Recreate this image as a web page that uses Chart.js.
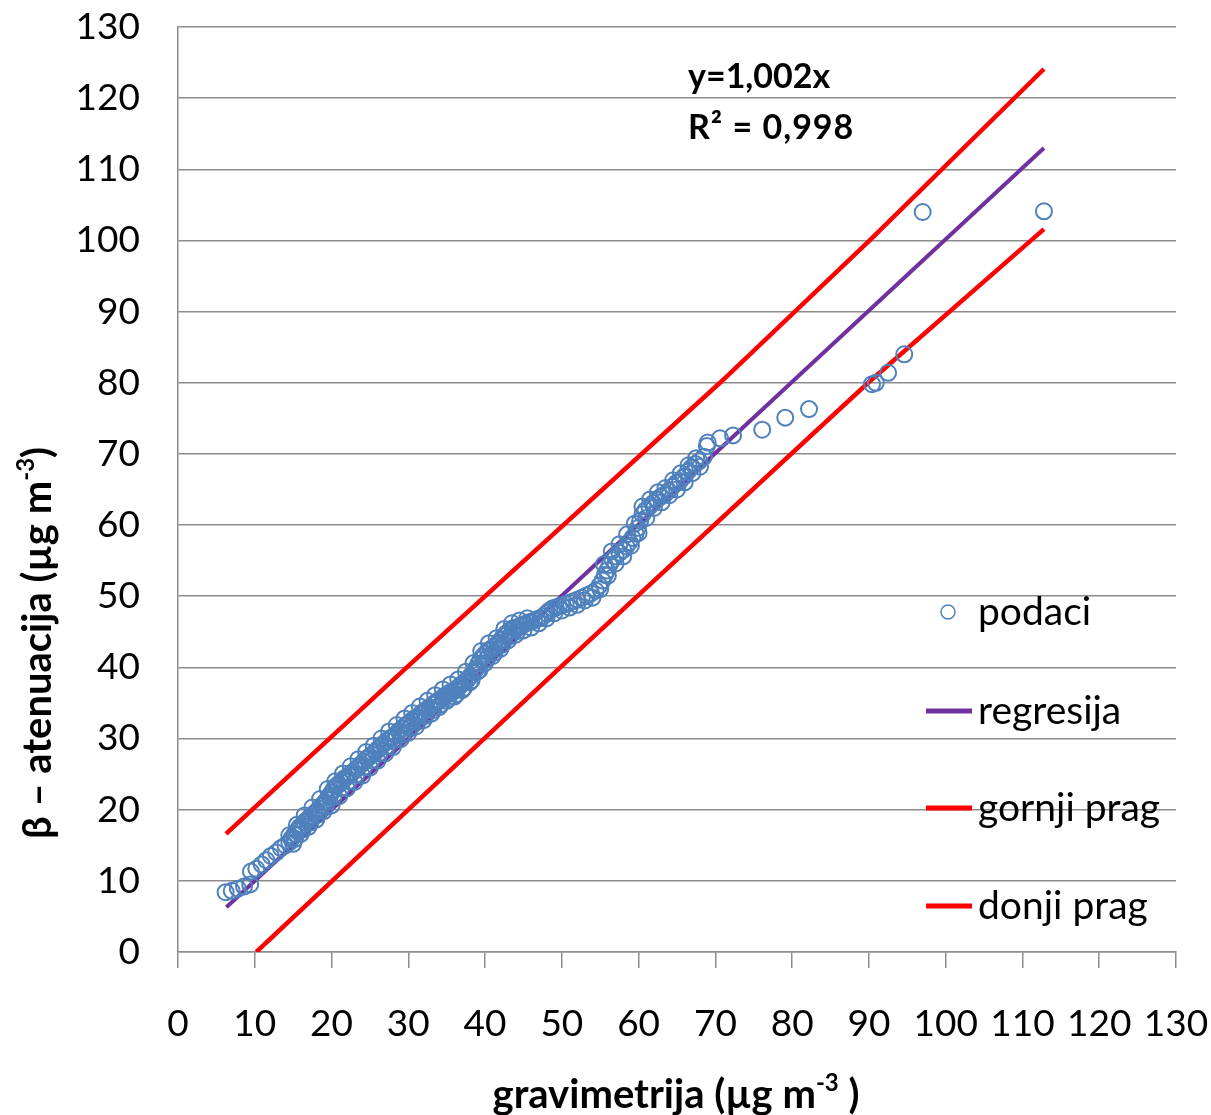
<!DOCTYPE html>
<html>
<head>
<meta charset="utf-8">
<script src="https://cdn.jsdelivr.net/npm/chart.js@4.4.0/dist/chart.umd.min.js"></script>
<style>
html, body { margin: 0; padding: 0; background: #fff; }
</style>
</head>
<body>
<canvas id="grafik" width="1211" height="1115"></canvas>
<script>
// podjela osi (iste za x i y)
var osTicks = [0, 10, 20, 30, 40, 50, 60, 70, 80, 90, 100, 110, 120, 130];

// podaci - gravimetrija (x) i beta atenuacija (y)
var podaciX = [6.2, 7.0, 7.8, 8.6, 9.4, 9.5, 10.2, 10.9, 11.5, 12.1, 12.8, 13.4, 14.0, 14.5,
    14.9, 15.2, 15.5, 15.8, 16.1, 16.4, 16.8, 17.1, 17.4, 17.8, 18.1, 18.4, 18.8, 19.1, 19.4, 19.7, 20.0,
    20.3, 20.6, 20.9, 21.2, 21.5, 21.8, 22.2, 22.5, 22.8, 23.2, 23.5, 23.9, 24.2, 24.6, 25.0, 25.3, 25.7,
    26.0, 26.4, 26.8, 27.2, 27.6, 28.0, 28.4, 28.8, 29.2, 29.6,
    30.0, 30.4, 30.8, 31.2, 31.6, 32.0, 32.4, 32.8, 33.2, 33.6, 34.0, 34.5, 34.9, 35.3, 35.7, 36.1, 36.5,
    36.9, 37.3, 37.7, 38.1, 38.5, 38.8, 39.1, 39.4, 39.7, 40.0,
    40.4, 40.8, 41.2, 41.6, 42.0, 42.4, 42.8, 43.2, 43.6, 44.0, 44.4, 44.8, 45.2, 45.6, 46.0, 46.4, 46.8,
    47.2, 47.6, 48.0, 48.4, 48.8, 49.2, 49.6, 50.0,
    50.5, 51.0, 51.5, 52.0, 52.6, 53.2, 53.8, 54.4, 54.9, 55.3, 55.6, 55.9, 56.2, 56.6, 57.0, 57.5, 58.0,
    58.4, 58.8, 59.2, 59.6, 59.9,
    60.2, 60.5, 60.9, 61.4, 61.9, 62.4, 62.9, 63.4, 63.9, 64.4, 64.9, 65.4, 65.9, 66.4, 66.9, 67.4, 67.9,
    68.5, 68.9, 69.0,
    70.6, 72.3, 76.1, 79.1, 82.2, 90.4, 90.9, 92.5, 94.6, 97.0, 112.8,
    15.0, 16.0, 17.0, 18.0, 19.0, 20.0, 21.0, 22.0, 23.0, 24.0, 25.0, 26.0, 27.0, 28.0, 29.0, 30.0,
    31.0, 32.0, 33.0, 34.0, 35.0, 36.0, 37.0, 38.0, 39.0, 40.0, 41.0, 42.0, 43.0, 44.0, 45.0, 46.0,
    47.0, 48.0, 49.0, 50.0, 51.0, 52.0, 53.0, 54.0,
    14.5, 15.5, 16.5, 17.5, 18.5, 19.5, 20.5, 21.5, 22.5, 23.5, 24.5, 25.5, 26.5, 27.5, 28.5, 29.5,
    30.5, 31.5, 32.5, 33.5, 34.5, 35.5, 36.5, 37.5, 38.5, 39.5, 40.5, 41.5, 42.5, 43.5, 44.5, 45.5,
    55.5, 56.5, 57.5, 58.5, 59.5, 60.5, 61.5, 62.5, 63.5, 64.5, 65.5, 66.5, 67.5,
    55.0, 56.0, 57.0, 58.0, 59.0, 60.0, 61.0, 62.0, 63.0, 64.0, 65.0, 66.0, 67.0, 68.0,
    14.75, 15.75, 16.75, 17.75, 18.75, 19.75, 20.75, 21.75, 22.75, 23.75, 24.75, 25.75, 26.75, 27.75,
    28.75, 29.75, 30.75, 31.75, 32.75, 33.75, 34.75, 35.75, 36.75, 37.75, 38.75, 39.75, 40.75, 41.75,
    42.75, 43.75, 44.75,
    15.25, 16.25, 17.25, 18.25, 19.25, 20.25, 21.25, 22.25, 23.25, 24.25, 25.25, 26.25, 27.25, 28.25,
    29.25, 30.25, 31.25, 32.25, 33.25, 34.25, 35.25, 36.25, 37.25, 38.25, 39.25, 40.25, 41.25, 42.25,
    43.25, 44.25];
var podaciY = [8.4, 8.6, 8.9, 9.2, 9.5, 11.3, 11.7, 12.3, 12.9, 13.5, 14.0, 14.6, 15.0, 15.4,
    16.1, 16.6, 17.0, 17.5, 17.8, 18.2, 18.5, 18.9, 19.1, 19.5, 19.8, 20.2, 20.6, 21.0, 21.4, 21.9, 22.4,
    22.9, 23.3, 23.6, 23.9, 24.2, 24.5, 24.8, 25.0, 25.3, 25.7, 26.0, 26.4, 26.8, 27.2, 27.5, 27.8, 28.1,
    28.5, 28.9, 29.3, 29.7, 30.0, 30.2, 30.6, 31.1, 31.4, 31.8,
    32.1, 32.5, 32.8, 33.0, 33.4, 33.8, 34.1, 34.4, 34.8, 35.1, 35.4, 35.8, 36.1, 36.4, 36.6, 36.8, 37.2,
    37.6, 37.9, 38.3, 38.8, 39.3, 39.8, 40.5, 41.1, 41.5, 41.9,
    42.3, 42.6, 42.9, 43.3, 43.8, 44.4, 44.8, 45.2, 45.5, 45.6, 45.7, 45.9, 46.1, 46.3, 46.4, 46.6, 46.8,
    46.9, 47.2, 47.6, 48.0, 48.3, 48.4, 48.6, 48.7,
    48.9, 49.1, 49.3, 49.5, 49.8, 50.1, 50.4, 50.8, 51.5, 52.2, 53.0, 53.6, 54.4, 55.1, 55.6, 56.1, 56.5,
    57.0, 57.6, 58.2, 58.8, 59.6,
    60.6, 61.5, 62.1, 62.6, 63.1, 63.6, 64.0, 64.3, 64.8, 65.4, 65.9, 66.2, 66.8, 67.5, 68.1, 68.6, 69.0,
    69.6, 71.1, 71.6,
    72.2, 72.6, 73.4, 75.1, 76.3, 79.8, 80.0, 81.4, 84.0, 104.0, 104.1,
    15.2, 16.6, 17.6, 18.6, 19.8, 20.6, 21.9, 23.0, 23.9, 24.8, 25.9, 26.9, 27.9, 28.8, 29.9, 30.8,
    31.7, 32.6, 33.5, 34.4, 35.3, 35.9, 36.8, 37.9, 39.4, 40.6, 41.6, 42.6, 43.8, 44.6, 45.2, 45.6,
    46.2, 46.9, 47.6, 48.0, 48.4, 48.8, 49.4, 49.8,
    16.4, 17.9, 19.2, 20.3, 21.5, 22.9, 24.0, 25.1, 26.1, 27.1, 28.1, 29.0, 30.0, 31.0, 31.9, 32.8,
    33.6, 34.5, 35.3, 36.1, 36.9, 37.6, 38.3, 39.4, 40.6, 42.3, 43.4, 44.1, 45.4, 46.2, 46.6, 46.9,
    54.5, 56.3, 57.3, 58.7, 60.2, 62.6, 63.6, 64.6, 65.2, 66.3, 67.3, 68.4, 69.4,
    51.0, 52.9, 54.6, 55.6, 57.1, 58.9, 61.0, 62.4, 63.2, 64.2, 65.0, 66.0, 67.3, 68.2,
    15.9, 17.3, 18.5, 19.5, 20.6, 21.9, 23.4, 24.4, 25.3, 26.3, 27.3, 28.2, 29.2, 30.1,
    31.0, 31.9, 32.8, 33.6, 34.4, 35.2, 36.0, 36.6, 37.4, 38.4, 39.7, 41.5, 42.6, 43.5,
    44.7, 45.5, 45.9,
    15.9, 17.2, 18.2, 19.3, 20.4, 21.8, 23.0, 24.0, 24.9, 26.0, 26.9, 27.9, 28.9, 29.8,
    30.6, 31.5, 32.4, 33.2, 34.0, 34.8, 35.6, 36.2, 37.1, 38.2, 39.6, 41.2, 42.1, 43.2,
    44.4, 45.1];

// regresija y = 1,002x
var regresijaX = [6.3, 112.8];
var regresijaY = [6.3, 113.0];

// gornji i donji prag
var gornjiX = [6.25, 29.8, 70.6, 90.1, 112.8];
var gornjiY = [16.6, 40.0, 80.0, 100.0, 124.1];
var donjiX = [10.2, 49.8, 89.9, 112.8];
var donjiY = [0, 40.0, 80.0, 101.6];

var nazivi = ['podaci', 'regresija', 'gornji prag', 'donji prag'];

function uTocke(xs, ys) {
    return xs.map(function (x, i) { return { x: x, y: ys[i] }; });
}

// naslovi osi s eksponentom
function crtajNaslov(ctx, dijelovi, cx, cy) {
    var glavni = 'bold 40px Lato';
    var mali = 'bold 24px Lato';
    var ukupno = 0;
    dijelovi.forEach(function (d) {
        ctx.font = d.sup ? mali : glavni;
        ukupno += ctx.measureText(d.t).width;
    });
    var x = cx - ukupno / 2;
    ctx.textAlign = 'left';
    ctx.textBaseline = 'middle';
    ctx.fillStyle = '#000';
    dijelovi.forEach(function (d) {
        ctx.font = d.sup ? mali : glavni;
        ctx.fillText(d.t, x, d.sup ? cy - 12 : cy);
        x += ctx.measureText(d.t).width;
    });
}

var dodaci = {
    id: 'dodaci',
    afterDraw: function (chart) {
        var ctx = chart.ctx;
        ctx.save();

        // legenda unutar grafa
        ctx.font = '39px Lato';
        ctx.fillStyle = '#000';
        ctx.textAlign = 'left';
        ctx.textBaseline = 'middle';
        ctx.beginPath();
        ctx.arc(948, 612, 7, 0, Math.PI * 2);
        ctx.strokeStyle = '#4f81bd';
        ctx.lineWidth = 1.5;
        ctx.stroke();
        ctx.fillText(nazivi[0], 978, 612);

        var linije = [[nazivi[1], '#7030a0', 711], [nazivi[2], '#ff0000', 808], [nazivi[3], '#ff0000', 906]];
        linije.forEach(function (l) {
            ctx.beginPath();
            ctx.moveTo(926, l[2]);
            ctx.lineTo(972, l[2]);
            ctx.strokeStyle = l[1];
            ctx.lineWidth = 5;
            ctx.stroke();
            ctx.fillText(l[0], 978, l[2]);
        });

        // jednadzba
        ctx.font = 'bold 34px Lato';
        ctx.fillText('y=1,002x', 688, 77);
        ctx.letterSpacing = '1px';
        ctx.fillText('R² = 0,998', 688, 128);
        ctx.letterSpacing = '0px';

        // naslovi osi
        crtajNaslov(ctx, [{ t: 'gravimetrija (µg m' }, { t: '-3', sup: true }, { t: ' )' }], 676, 1095);
        ctx.translate(38, 643);
        ctx.rotate(-Math.PI / 2);
        crtajNaslov(ctx, [{ t: 'β – atenuacija (µg m' }, { t: '-3', sup: true }, { t: ')' }], 0, 0);

        ctx.restore();
    }
};

var sivo = '#8c8c8c';

new Chart(document.getElementById('grafik'), {
    type: 'scatter',
    data: {
        datasets: [{
            label: nazivi[0],
            data: uTocke(podaciX, podaciY),
            pointRadius: 8,
            pointBorderColor: '#4f81bd',
            pointBackgroundColor: 'rgba(0,0,0,0)',
            pointBorderWidth: 2
        }, {
            label: nazivi[1],
            data: uTocke(regresijaX, regresijaY),
            showLine: true,
            pointRadius: 0,
            borderColor: '#7030a0',
            borderWidth: 4
        }, {
            label: nazivi[2],
            data: uTocke(gornjiX, gornjiY),
            showLine: true,
            pointRadius: 0,
            borderColor: '#ff0000',
            borderWidth: 4.5
        }, {
            label: nazivi[3],
            data: uTocke(donjiX, donjiY),
            showLine: true,
            pointRadius: 0,
            borderColor: '#ff0000',
            borderWidth: 4.5
        }]
    },
    options: {
        responsive: false,
        animation: false,
        layout: { padding: { top: 27, right: 35, left: 0, bottom: 0 } },
        plugins: {
            legend: { display: false },
            tooltip: { enabled: false }
        },
        scales: {
            x: {
                type: 'linear',
                min: 0,
                max: 130,
                afterBuildTicks: function (s) { s.ticks = osTicks.map(function (v) { return { value: v }; }); },
                afterFit: function (s) { s.height = 163; s.paddingLeft = 0; s.paddingRight = 0; },
                grid: { drawOnChartArea: false, drawTicks: true, tickLength: 16, color: sivo, lineWidth: 1.5 },
                border: { display: true, color: sivo, width: 1.5 },
                ticks: { font: { family: 'Lato', size: 37 }, color: '#000', padding: 34, maxRotation: 0, autoSkip: false }
            },
            y: {
                type: 'linear',
                min: 0,
                max: 130,
                afterBuildTicks: function (s) { s.ticks = osTicks.map(function (v) { return { value: v }; }); },
                afterFit: function (s) { s.width = 178; s.paddingTop = 0; s.paddingBottom = 0; },
                grid: { drawTicks: false, color: sivo, lineWidth: 1.5 },
                border: { display: true, color: sivo, width: 1.5 },
                ticks: { font: { family: 'Lato', size: 37 }, color: '#000', padding: 38, autoSkip: false }
            }
        }
    },
    plugins: [dodaci]
});
</script>
</body>
</html>
